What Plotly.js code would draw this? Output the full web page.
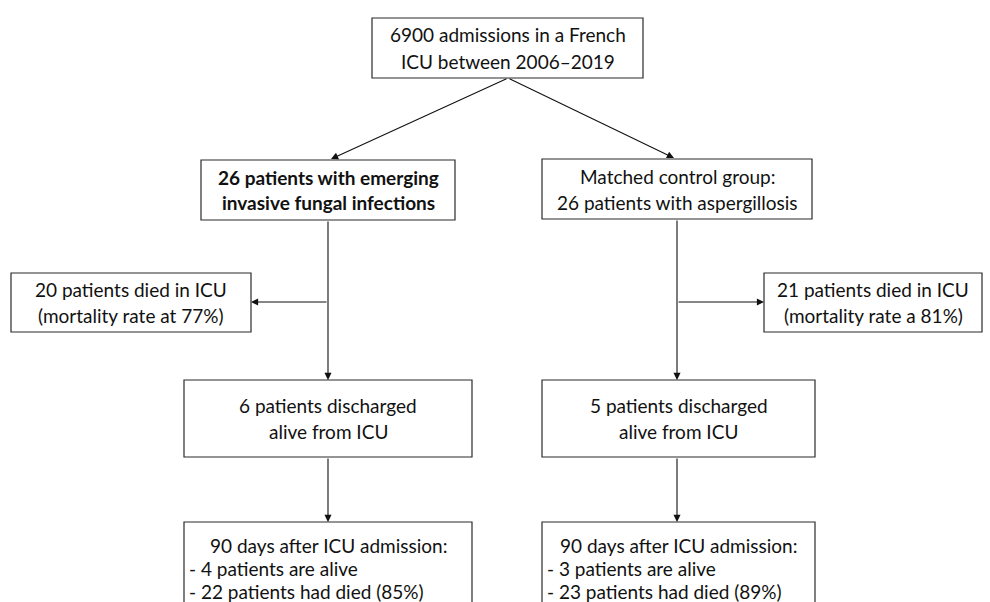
<!DOCTYPE html>
<html>
<head>
<meta charset="utf-8">
<script src="https://cdn.plot.ly/plotly-3.0.1.min.js"></script>
<style>html,body{margin:0;padding:0;background:#fff;}#chart{width:990px;height:602px;}</style>
</head>
<body>
<div id="chart"></div>
<script>
// ---- Chart content (flowchart texts) ----
const startBox = ["6900 admissions in a French", "ICU between 2006–2019"];
const groupA = ["26 patients with emerging", "invasive fungal infections"];
const groupB = ["Matched control group:", "26 patients with aspergillosis"];
const diedA = ["20 patients died in ICU", "(mortality rate at 77%)"];
const diedB = ["21 patients died in ICU", "(mortality rate a 81%)"];
const dischargedA = ["6 patients discharged", "alive from ICU"];
const dischargedB = ["5 patients discharged", "alive from ICU"];
const day90A = ["90 days after ICU admission:", "- 4 patients are alive", "- 22 patients had died (85%)"];
const day90B = ["90 days after ICU admission:", "- 3 patients are alive", "- 23 patients had died (89%)"];

// ---- Geometry (pixel space of the 990x602 canvas) ----
const boxes = [
  {id:"start", x0:372, x1:643, y0:18,  y1:78,  lines:startBox,    gap:27, bold:false},
  {id:"gA",    x0:201, x1:455, y0:160, y1:220, lines:groupA,      gap:25, bold:true},
  {id:"gB",    x0:542, x1:812, y0:159, y1:219, lines:groupB,      gap:26, bold:false},
  {id:"dA",    x0:11,  x1:251, y0:273, y1:332, lines:diedA,       gap:26, bold:false},
  {id:"dB",    x0:764, x1:982, y0:273, y1:332, lines:diedB,       gap:26, bold:false},
  {id:"cA",    x0:184, x1:472, y0:380, y1:457, lines:dischargedA, gap:26, bold:false},
  {id:"cB",    x0:542, x1:815, y0:380, y1:457, lines:dischargedB, gap:26, bold:false},
  {id:"eA",    x0:184, x1:472, y0:522, y1:640, lines:day90A,      gap:23, bold:false, list:true, firstY:545},
  {id:"eB",    x0:542, x1:815, y0:522, y1:640, lines:day90B,      gap:23, bold:false, list:true, firstY:545}
];
// arrows: [tailX, tailY, tipX, tipY, head]
const arrows = [
  [508, 78, 331, 159, true],
  [508, 78, 674, 158, true],
  [328, 220, 328, 380, true],
  [328, 302, 251, 302, true],
  [677, 219, 677, 380, true],
  [677, 302, 764, 302, true],
  [328, 457, 328, 522, true],
  [677, 457, 677, 522, true]
];

const FONT = "Lato, Carlito, 'Open Sans', sans-serif";
const FS = 19;
const COLOR = "#111";

const shapes = boxes.map(b => ({
  type:"rect", xref:"x", yref:"y", x0:b.x0, x1:b.x1, y0:b.y0, y1:b.y1,
  line:{color:"#2a2a2a", width:1.2}, fillcolor:"#fff", layer:"above"
}));

const annotations = [];
arrows.forEach(a => {
  annotations.push({
    x:a[2], y:a[3], ax:a[0], ay:a[1], xref:"x", yref:"y", axref:"x", ayref:"y",
    text:"", showarrow:true, arrowhead:a[4]?2:0, arrowsize:1.3, arrowwidth:1.1,
    arrowcolor:"#111", standoff:0, startstandoff:0
  });
});
boxes.forEach(b => {
  const cx = (b.x0 + b.x1) / 2;
  const cy = (b.y0 + b.y1) / 2;
  const n = b.lines.length;
  b.lines.forEach((t, i) => {
    let y, x, anchor;
    if (b.list) {
      y = b.firstY + i * b.gap;
      if (i === 0) { x = cx; anchor = "center"; } else { x = b.x0 + 3; anchor = "left"; }
    } else {
      y = cy + (i - (n - 1) / 2) * b.gap;
      x = cx; anchor = "center";
    }
    annotations.push({
      x:x, y:y, xref:"x", yref:"y", xanchor:anchor, yanchor:"middle",
      text: b.bold ? "<b>" + t + "</b>" : t, showarrow:false,
      font:{family:FONT, size:FS, color:COLOR}
    });
  });
});

const layout = {
  width:990, height:602,
  margin:{l:0, r:0, t:0, b:0},
  paper_bgcolor:"#fff", plot_bgcolor:"#fff",
  xaxis:{range:[0,990], visible:false, fixedrange:true},
  yaxis:{range:[602,0], visible:false, fixedrange:true},
  shapes:shapes, annotations:annotations, showlegend:false
};
Plotly.newPlot("chart", [], layout, {displayModeBar:false, staticPlot:true});
</script>
</body>
</html>
